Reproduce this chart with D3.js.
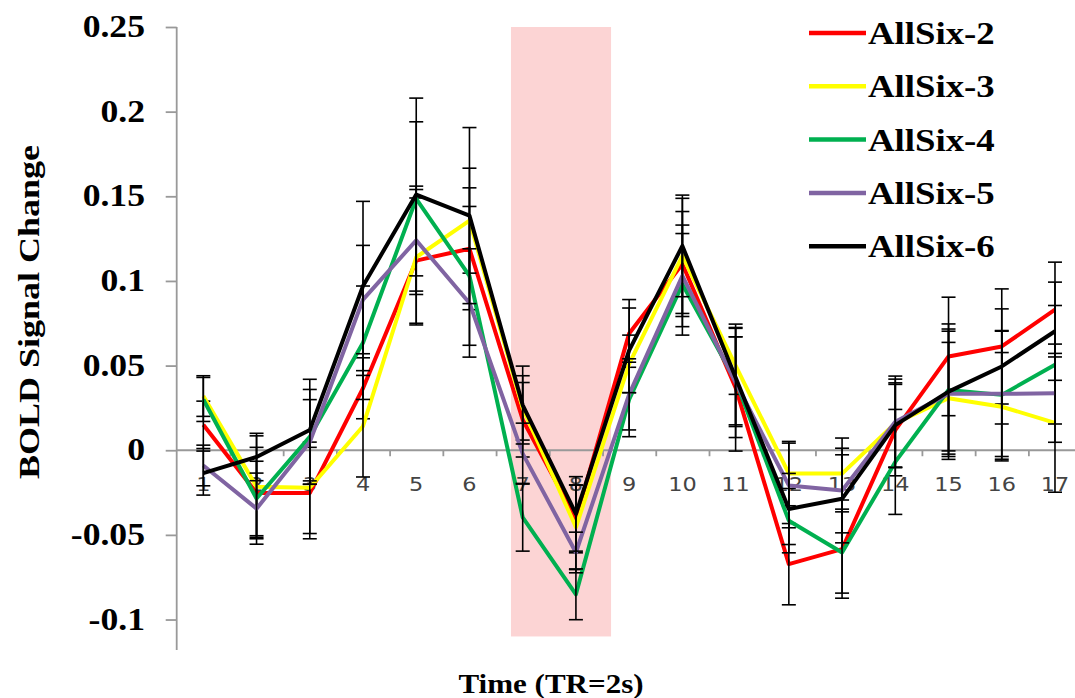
<!DOCTYPE html>
<html>
<head>
    <meta charset="UTF-8">
    <title>BOLD Signal Change</title>
    <script src="https://d3js.org/d3.v7.min.js"></script>
    <style>
        *{
            padding:0;
            margin:0;
        }
        body { background: #fff; }
        .serif {
            font-family: "Liberation Serif", "Times New Roman", serif;
            font-weight: bold;
            fill: #000;
        }
        .cat {
            font-family: "DejaVu Sans", Verdana, sans-serif;
            font-size: 20px;
            fill: #444;
        }
    </style>
</head>
<body>
    <svg id='main' width="1075" height="698"></svg>
    <script>
const categories = ["1","2","3","4","5","6","7","8","9","10","11","12","13","14","15","16","17"];
const seriesNames = ["AllSix-2", "AllSix-3", "AllSix-4", "AllSix-5", "AllSix-6"];
const seriesColors = ["#ff0000", "#ffff00", "#00b050", "#8064a2", "#000000"];

const allSix2 = [0.015, -0.0253, -0.0253, 0.0366, 0.112, 0.119, 0.018, -0.0406, 0.069, 0.110, 0.037, -0.0673, -0.0584, 0.0119, 0.0554, 0.0613, 0.0831];
const allSix3 = [0.032, -0.0215, -0.0222, 0.0142, 0.114, 0.1356, 0.025, -0.0455, 0.051, 0.1148, 0.050, -0.0138, -0.0138, 0.016, 0.0307, 0.0257, 0.0162];
const allSix4 = [0.030, -0.0285, 0.0079, 0.0635, 0.1485, 0.103, -0.0396, -0.0851, 0.030, 0.098, 0.041, -0.0416, -0.0604, -0.0069, 0.0356, 0.0327, 0.0505];
const allSix5 = [-0.009, -0.0345, 0.0049, 0.089, 0.124, 0.087, -0.002, -0.0604, 0.033, 0.103, 0.040, -0.0208, -0.0238, 0.0168, 0.0333, 0.0333, 0.0337];
const allSix6 = [-0.0135, -0.004, 0.0119, 0.097, 0.151, 0.1386, 0.0267, -0.0376, 0.059, 0.1207, 0.043, -0.0347, -0.0287, 0.0148, 0.0346, 0.0495, 0.0703];

// error bar half-lengths, same order as the series
const err2 = [0.014, 0.027, 0.027, 0.018, 0.037, 0.036, 0.022, 0.020, 0.020, 0.031, 0.0375, 0.024, 0.029, 0.027, 0.035, 0.034, 0.028];
const err3 = [0.012, 0.030, 0.027, 0.030, 0.040, 0.031, 0.019, 0.025, 0.017, 0.034, 0.017, 0.019, 0.021, 0.026, 0.033, 0.032, 0.041];
const err4 = [0.013, 0.022, 0.028, 0.0335, 0.0455, 0.041, 0.020, 0.015, 0.022, 0.030, 0.026, 0.019, 0.024, 0.031, 0.036, 0.038, 0.035];
const err5 = [0.012, 0.021, 0.025, 0.032, 0.032, 0.032, 0.018, 0.012, 0.021, 0.030, 0.0325, 0.025, 0.025, 0.027, 0.037, 0.037, 0.029];
const err6 = [0.013, 0.014, 0.030, 0.050, 0.057, 0.052, 0.023, 0.022, 0.025, 0.030, 0.029, 0.021, 0.026, 0.025, 0.040, 0.034, 0.029];

const yTicks = [0.25, 0.2, 0.15, 0.1, 0.05, 0, -0.05, -0.1];
const yTickLabels = ["0.25", "0.2", "0.15", "0.1", "0.05", "0", "-0.05", "-0.1"];
// shaded stimulus window, in category units and y units
const bandX = [6.78, 8.66];
const bandY = [-0.11, 0.25];

const values = [allSix2, allSix3, allSix4, allSix5, allSix6];
const errors = [err2, err3, err4, err5, err6];

const svg = d3.select("svg");

const x = d3.scaleLinear().domain([0.5, 17.5]).range([176.7, 1081.6]);
const y = d3.scaleLinear().domain([-0.118, 0.25]).range([650, 27]);

// pink band
svg.append("rect")
    .attr("x", x(bandX[0]))
    .attr("y", y(bandY[1]))
    .attr("width", x(bandX[1]) - x(bandX[0]))
    .attr("height", y(bandY[0]) - y(bandY[1]))
    .attr("fill", "#fcd4d4");

// y axis
const yAxis = svg.append("g")
    .attr("transform", `translate(${x(0.5)},0)`)
    .call(d3.axisLeft(y).tickValues(yTicks).tickSize(11).tickFormat(""));
yAxis.select(".domain").attr("stroke", "#999").attr("stroke-width", 1.8)
    .attr("d", `M0,${y(0.25)}V${y(-0.118)}`);
yAxis.selectAll(".tick line").attr("stroke", "#999").attr("stroke-width", 1.8);

svg.append("g").selectAll("text")
    .data(yTicks)
    .enter().append("text")
    .attr("class", "serif")
    .attr("text-anchor", "end")
    .attr("font-size", 31)
    .attr("transform", d => `translate(145,${y(d) + 10}) scale(1.15,1)`)
    .text((d, i) => yTickLabels[i]);

// x axis along zero
const xAxis = svg.append("g")
    .attr("transform", `translate(0,${y(0)})`)
    .call(d3.axisBottom(x).tickValues(d3.range(1.5, 17.5, 1)).tickSize(6).tickFormat(""));
xAxis.select(".domain").attr("stroke", "#999").attr("stroke-width", 1.8)
    .attr("d", `M${x(0.5)},0H1075`);
xAxis.selectAll(".tick line").attr("stroke", "#999").attr("stroke-width", 1.8);

svg.append("g").selectAll("text")
    .data(categories)
    .enter().append("text")
    .attr("class", "cat")
    .attr("text-anchor", "middle")
    .attr("transform", (d, i) => `translate(${x(i + 1)},${y(0) + 41}) scale(1.12,1)`)
    .text(d => d);

// series lines and error bars
const line = d3.line()
    .x((d, i) => x(i + 1))
    .y(d => y(d));

values.forEach((vals, s) => {
    svg.append("path")
        .datum(vals)
        .attr("fill", "none")
        .attr("stroke", seriesColors[s])
        .attr("stroke-width", 4)
        .attr("stroke-linejoin", "round")
        .attr("d", line);

    const eb = svg.append("g")
        .attr("stroke", "#000")
        .attr("stroke-width", 1.6)
        .selectAll("g")
        .data(vals)
        .enter().append("g");
    eb.append("line")
        .attr("x1", (d, i) => x(i + 1)).attr("x2", (d, i) => x(i + 1))
        .attr("y1", (d, i) => y(d + errors[s][i]))
        .attr("y2", (d, i) => y(d - errors[s][i]));
    eb.append("line")
        .attr("x1", (d, i) => x(i + 1) - 7).attr("x2", (d, i) => x(i + 1) + 7)
        .attr("y1", (d, i) => y(d + errors[s][i]))
        .attr("y2", (d, i) => y(d + errors[s][i]));
    eb.append("line")
        .attr("x1", (d, i) => x(i + 1) - 7).attr("x2", (d, i) => x(i + 1) + 7)
        .attr("y1", (d, i) => y(d - errors[s][i]))
        .attr("y2", (d, i) => y(d - errors[s][i]));
});

// legend
const legend = svg.append("g")
    .selectAll("g")
    .data(seriesNames)
    .enter().append("g")
    .attr("transform", (d, i) => `translate(809,${33 + i * 53.3})`);
legend.append("line")
    .attr("x1", 0).attr("x2", 57)
    .attr("stroke", (d, i) => seriesColors[i])
    .attr("stroke-width", 4.5);
legend.append("text")
    .attr("class", "serif")
    .attr("font-size", 32)
    .attr("transform", "translate(59,11) scale(1.15,1)")
    .text(d => d);

// axis titles
svg.append("text")
    .attr("class", "serif")
    .attr("font-size", 27)
    .attr("text-anchor", "middle")
    .attr("transform", "translate(551,693) scale(1.15,1)")
    .text("Time  (TR=2s)");

svg.append("text")
    .attr("class", "serif")
    .attr("font-size", 30)
    .attr("text-anchor", "middle")
    .attr("transform", "translate(39,312) rotate(-90) scale(1.2,1)")
    .text("BOLD Signal Change");
    </script>
</body>
</html>
